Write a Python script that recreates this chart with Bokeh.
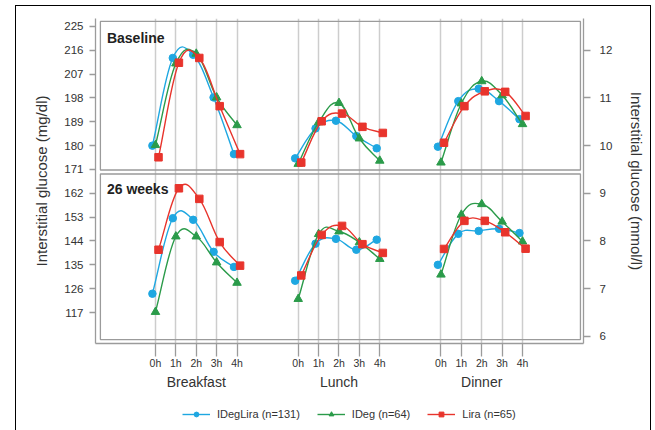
import numpy as np
from bokeh.plotting import figure
from bokeh.layouts import column
from bokeh.models import (Range1d, LinearAxis, FixedTicker, Grid, Label,
                          Legend, LegendItem, ColumnDataSource)
from bokeh.embed import file_html
from bokeh.resources import INLINE

# ---- data (interstitial glucose, mg/dl; hourly 0h-4h after each meal) ----
meals = ["Breakfast", "Lunch", "Dinner"]
hours = [0, 1, 2, 3, 4]
hour_labels = ["0h", "1h", "2h", "3h", "4h"]
series_names = ["IDegLira (n=131)", "IDeg (n=64)", "Lira (n=65)"]
panel_names = ["Baseline", "26 weeks"]

# order: breakfast 0-4h, lunch 0-4h, dinner 0-4h
baseline_ideglira = [180.0, 213.1, 214.3, 198.2, 176.8,
                     175.2, 186.5, 189.4, 183.6, 179.0,
                     179.6, 196.8, 201.5, 196.8, 190.0]
baseline_ideg = [180.2, 211.0, 214.7, 198.2, 187.7,
                 173.1, 188.8, 196.1, 182.7, 174.3,
                 173.6, 195.9, 204.3, 199.0, 188.1]
baseline_lira = [175.6, 211.3, 213.1, 194.9, 176.8,
                 173.6, 189.2, 192.1, 187.1, 184.8,
                 181.1, 194.9, 200.5, 200.3, 191.2]
week26_ideglira = [124.1, 152.6, 152.0, 139.9, 134.2,
                   129.0, 143.0, 144.8, 140.7, 144.5,
                   135.0, 146.7, 147.8, 148.6, 147.0]
week26_ideg = [117.2, 145.7, 145.7, 135.9, 128.2,
               122.1, 146.6, 147.6, 143.5, 137.2,
               131.3, 153.9, 157.9, 151.3, 143.8]
week26_lira = [140.7, 163.9, 159.9, 143.6, 134.7,
               131.0, 146.3, 149.7, 142.8, 139.5,
               141.0, 151.6, 151.6, 147.3, 141.1]

mg_ticks = [117, 126, 135, 144, 153, 162, 171, 180, 189, 198, 207, 216, 225]
mmol_ticks = [6, 7, 8, 9, 10, 11, 12]
MG_PER_MMOL = 18.0

# ---- styling ----
colors = ["#1ea7e1", "#2b9b4a", "#e8342c"]
markers = ["circle", "triangle", "square"]
marker_sizes = [7.5, 8.5, 7.5]
dodge = [-0.15, 0.0, 0.15]
MEAL_STEP = 7            # x distance between meal blocks
TENSION = 0.58           # curve tangent scale
FONT = "Liberation Sans"
TXT = "#333333"
FRAME_GREY = "#9b9b9b"
W = 634

p = figure(width=W, height=386,
           x_range=Range1d(-2.94, 20.99), y_range=Range1d(105.3, 228.0),
           output_backend="svg", toolbar_location=None,
           x_axis_type=None, y_axis_type=None,
           min_border_left=79, min_border_right=67,
           min_border_top=12, min_border_bottom=48)
p.outline_line_color = None
p.background_fill_color = "white"
p.border_fill_color = "white"
p.extra_y_ranges = {"mmol": Range1d(105.3 / MG_PER_MMOL, 228.0 / MG_PER_MMOL)}

x_ticks = [m * MEAL_STEP + h for m in range(len(meals)) for h in hours]
x_overrides = {m * MEAL_STEP + h: hour_labels[h]
               for m in range(len(meals)) for h in hours}

# vertical hour guides
p.add_layout(Grid(dimension=0, ticker=FixedTicker(ticks=x_ticks),
                  grid_line_color="#cdcdcd", grid_line_width=1.5))

# panel frames
p.quad(left=[-2.70, -2.70], right=[20.84, 20.84],
       top=[226.9, 169.3], bottom=[170.8, 106.8],
       fill_color=None, line_color=FRAME_GREY, line_width=1.3)

# ---- axes ----
def style_axis(ax, size="11.5px"):
    ax.axis_line_color = FRAME_GREY
    ax.axis_line_width = 1.3
    ax.major_tick_line_color = FRAME_GREY
    ax.major_tick_line_width = 1.3
    ax.minor_tick_line_color = None
    ax.major_tick_in = 0
    ax.major_label_text_font = FONT
    ax.major_label_text_font_size = size
    ax.major_label_text_color = TXT
    ax.axis_label_text_font = FONT
    ax.axis_label_text_font_size = "15px"
    ax.axis_label_text_font_style = "normal"
    ax.axis_label_text_color = TXT

left = LinearAxis(ticker=FixedTicker(ticks=mg_ticks),
                  axis_label="Interstitial glucose (mg/dl)")
style_axis(left)
left.major_tick_out = 6
left.major_label_standoff = 6
left.axis_label_standoff = 11
p.add_layout(left, "left")

right = LinearAxis(y_range_name="mmol", ticker=FixedTicker(ticks=mmol_ticks),
                   axis_label="Interstitial glucose (mmol/l)")
style_axis(right)
right.major_tick_out = 7
right.major_label_standoff = 9
right.axis_label_standoff = 13
p.add_layout(right, "right")

bottom = LinearAxis(ticker=FixedTicker(ticks=x_ticks),
                    major_label_overrides=x_overrides)
style_axis(bottom, "10.5px")
bottom.major_tick_out = 13
bottom.major_label_standoff = 0
p.add_layout(bottom, "below")

meal_axis = LinearAxis(ticker=FixedTicker(ticks=[m * MEAL_STEP + 2 for m in range(len(meals))]),
                       major_label_overrides={m * MEAL_STEP + 2: meals[m] for m in range(len(meals))})
style_axis(meal_axis, "14px")
meal_axis.axis_line_color = None
meal_axis.major_tick_line_color = None
meal_axis.major_tick_out = 0
meal_axis.major_label_standoff = 2
p.add_layout(meal_axis, "below")

# ---- curves and markers ----
def smooth_segments(xs, ys):
    """Cubic Bezier segments (Catmull-Rom style tangents) through one meal block."""
    xs = np.asarray(xs, float)
    ys = np.asarray(ys, float)
    n = len(xs)
    mx = np.empty(n)
    my = np.empty(n)
    mx[1:-1] = (xs[2:] - xs[:-2]) * TENSION
    my[1:-1] = (ys[2:] - ys[:-2]) * TENSION
    mx[0], my[0] = xs[1] - xs[0], ys[1] - ys[0]
    mx[-1], my[-1] = xs[-1] - xs[-2], ys[-1] - ys[-2]
    return dict(x0=xs[:-1], y0=ys[:-1], x1=xs[1:], y1=ys[1:],
                cx0=xs[:-1] + mx[:-1] / 3, cy0=ys[:-1] + my[:-1] / 3,
                cx1=xs[1:] - mx[1:] / 3, cy1=ys[1:] - my[1:] / 3)

panels = [[baseline_ideglira, baseline_ideg, baseline_lira],
          [week26_ideglira, week26_ideg, week26_lira]]

for s in range(len(series_names)):
    seg = {k: [] for k in ["x0", "y0", "x1", "y1", "cx0", "cy0", "cx1", "cy1"]}
    px, py = [], []
    for panel in panels:
        vals = panel[s]
        for m in range(len(meals)):
            xs = [m * MEAL_STEP + h + dodge[s] for h in hours]
            ys = vals[m * len(hours):(m + 1) * len(hours)]
            d = smooth_segments(xs, ys)
            for k in seg:
                seg[k].extend(d[k].tolist())
            px.extend(xs)
            py.extend(ys)
    p.bezier(x0="x0", y0="y0", x1="x1", y1="y1",
             cx0="cx0", cy0="cy0", cx1="cx1", cy1="cy1",
             source=ColumnDataSource(seg),
             line_color=colors[s], line_width=1.4)
    p.scatter(px, py, marker=markers[s], size=marker_sizes[s],
              fill_color=colors[s], line_color=colors[s])

# panel titles
for name, ytop in zip(panel_names, [223.6, 166.6]):
    p.add_layout(Label(x=-2.38, y=ytop, text=name, text_font=FONT,
                       text_font_size="14px", text_font_style="bold",
                       text_color="#222222", text_baseline="top"))

# ---- legend strip under the chart ----
q = figure(width=W, height=38, x_range=Range1d(0, 1), y_range=Range1d(0, 1),
           output_backend="svg", toolbar_location=None,
           x_axis_type=None, y_axis_type=None, min_border=0)
q.outline_line_color = None
q.grid.visible = False
items = []
for s in range(len(series_names)):
    # off-range placeholder renderers that only supply the legend swatches
    rl = q.line(x=np.array([np.nan]), y=np.array([np.nan]),
                line_color=colors[s], line_width=1.4)
    rm = q.scatter(x=np.array([np.nan]), y=np.array([np.nan]), marker=markers[s],
                   size=6, fill_color=colors[s], line_color=colors[s])
    items.append(LegendItem(label=series_names[s], renderers=[rl, rm]))
legend = Legend(items=items, orientation="horizontal", location=(87, 10),
                label_text_font=FONT, label_text_font_size="11px",
                label_text_color=TXT, glyph_width=28, glyph_height=12,
                label_standoff=7, spacing=17, padding=4, margin=0,
                border_line_color=None, background_fill_alpha=0)
q.add_layout(legend, "center")

page = column(p, q, spacing=0,
              styles={"margin-left": "15px", "margin-top": "5px",
                      "border-left": "1px solid #000", "border-top": "1px solid #000",
                      "border-right": "1px solid #000"})

open("out.html", "w").write(file_html(page, INLINE))
